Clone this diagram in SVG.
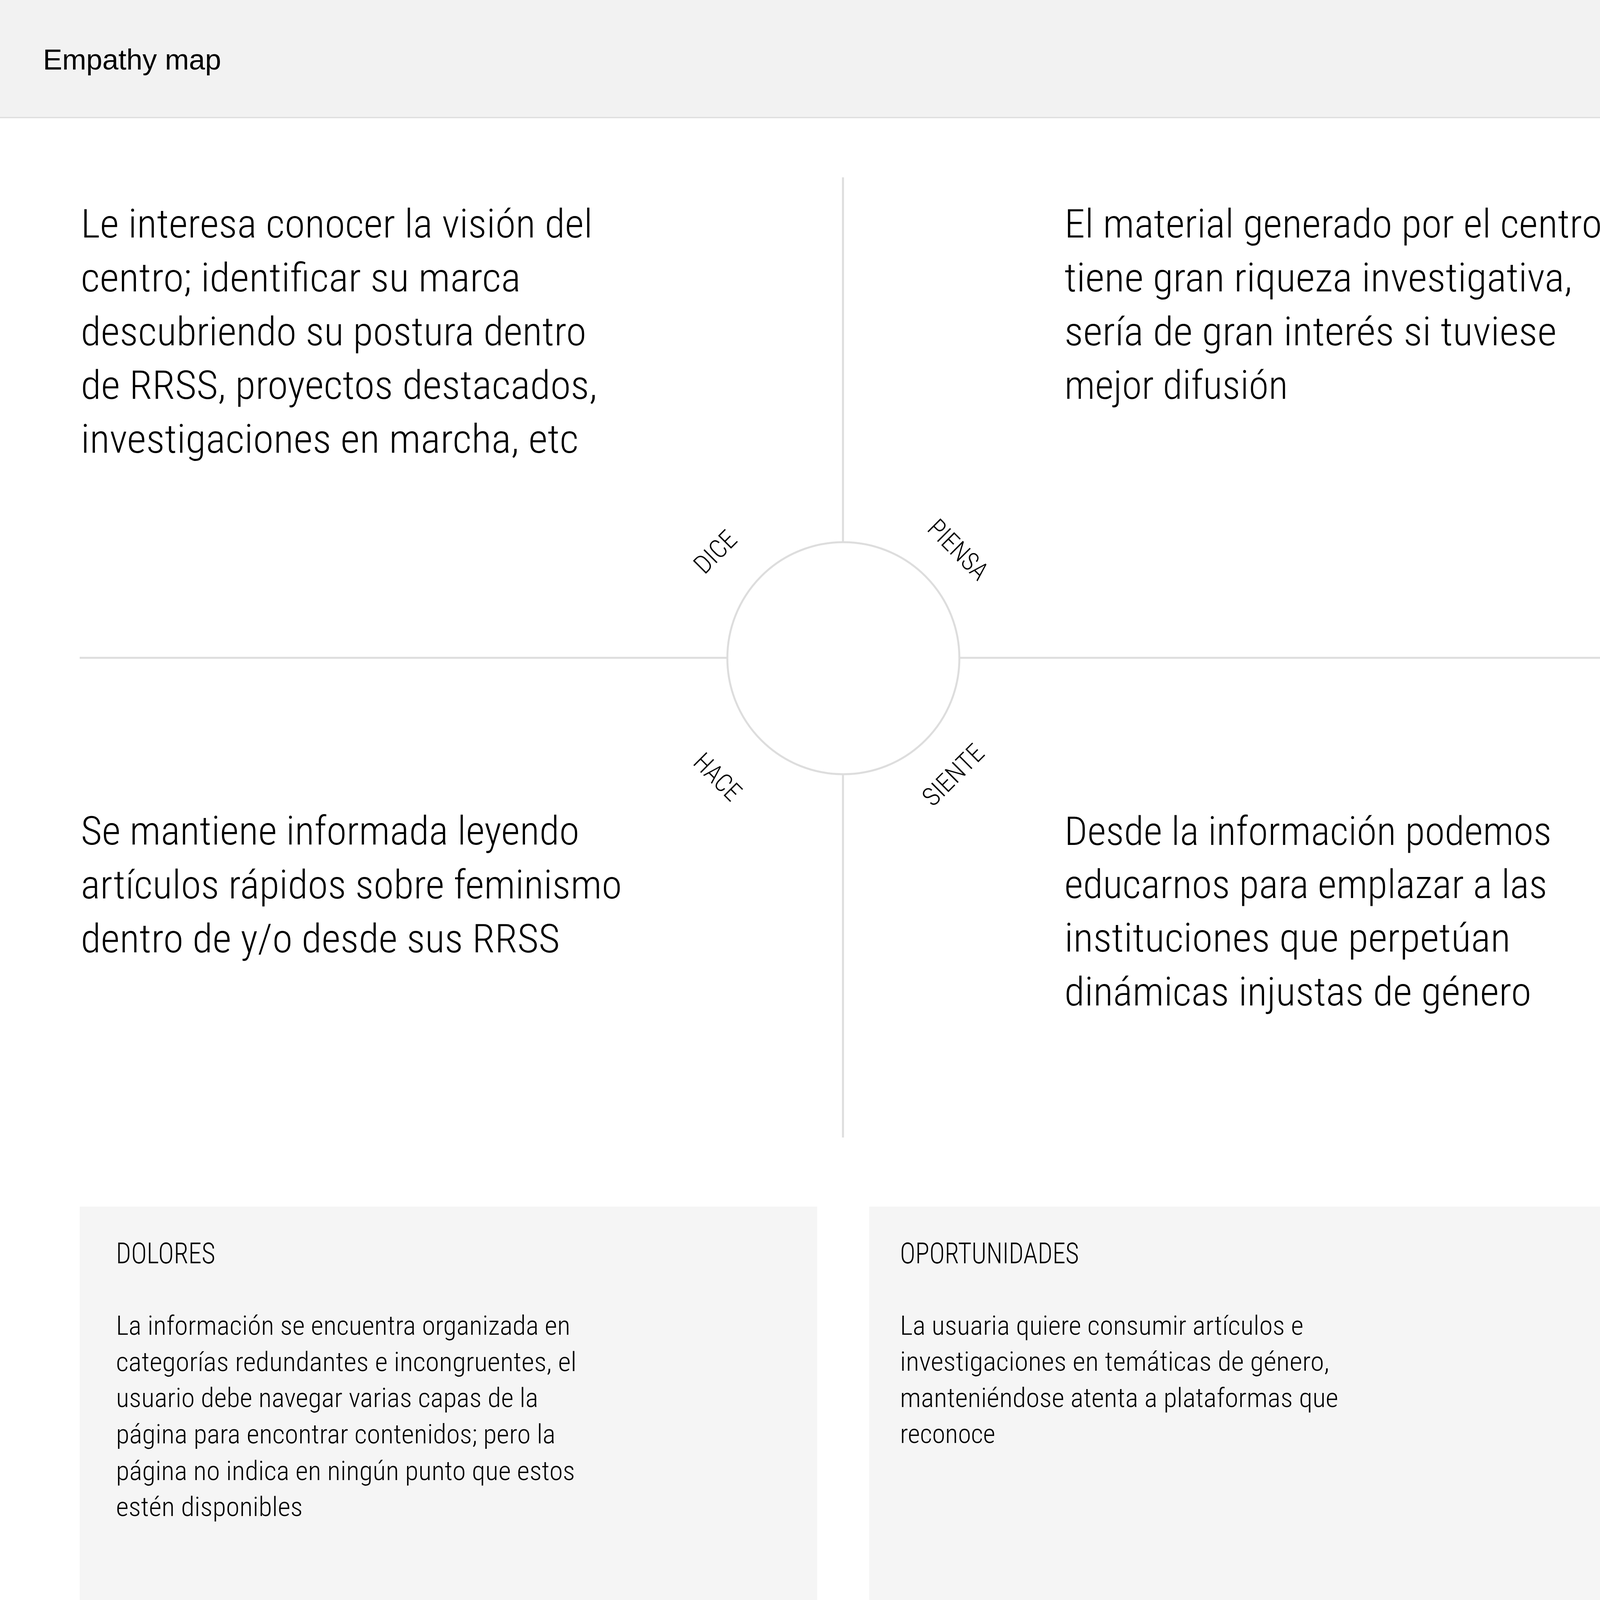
<svg xmlns="http://www.w3.org/2000/svg" width="4320" height="4452" viewBox="0 0 4320 4452">
<style>
.cond{font-family:"Liberation Sans Narrow","Roboto Condensed","DejaVu Sans Condensed","Liberation Sans",sans-serif;font-stretch:condensed;font-weight:300;fill:#000}
.big{font-size:102px}
.small{font-size:69px}
.title{font-size:74px}
.lbl{font-size:66px;text-anchor:middle}
.hdr{font-family:"Liberation Sans","Noto Sans",sans-serif;font-size:74px;fill:#000}
.rule{stroke:#dddddd;stroke-width:5;fill:none}
.box{fill:#f5f5f5}
</style>
<rect x="0" y="0" width="4320" height="4452" fill="#ffffff"/>
<g id="header">
<rect x="0" y="0" width="4320" height="301" fill="#f2f2f2"/>
<line x1="0" y1="301" x2="4320" y2="301" stroke="#dcdcdc" stroke-width="3"/>
<text class="hdr" x="110" y="178" textLength="456" lengthAdjust="spacingAndGlyphs">Empathy map</text>
</g>
<g id="connectors">
<line class="rule" x1="2158" y1="454" x2="2158" y2="2912"/>
<line class="rule" x1="204" y1="1684" x2="4115" y2="1684"/>
</g>
<g id="center">
<circle class="rule" cx="2159" cy="1685" r="297" style="fill:#ffffff"/>
</g>
<g id="labels">
<text class="cond lbl" transform="translate(1830,1412) rotate(-45)" x="0" y="24" textLength="124" lengthAdjust="spacingAndGlyphs">DICE</text>
<text class="cond lbl" transform="translate(2454,1406) rotate(45)" x="0" y="24" textLength="188" lengthAdjust="spacingAndGlyphs">PIENSA</text>
<text class="cond lbl" transform="translate(1838,1988) rotate(45)" x="0" y="24" textLength="141" lengthAdjust="spacingAndGlyphs">HACE</text>
<text class="cond lbl" transform="translate(2439,1983) rotate(-45)" x="0" y="24" textLength="192" lengthAdjust="spacingAndGlyphs">SIENTE</text>
</g>
<g id="dice">
<text class="cond big" x="207" y="608" textLength="1310" lengthAdjust="spacingAndGlyphs">Le interesa conocer la visión del</text>
<text class="cond big" x="207" y="746" textLength="1126" lengthAdjust="spacingAndGlyphs">centro; identificar su marca</text>
<text class="cond big" x="207" y="884" textLength="1294" lengthAdjust="spacingAndGlyphs">descubriendo su postura dentro</text>
<text class="cond big" x="207" y="1021" textLength="1322" lengthAdjust="spacingAndGlyphs">de RRSS, proyectos destacados,</text>
<text class="cond big" x="207" y="1159" textLength="1274" lengthAdjust="spacingAndGlyphs">investigaciones en marcha, etc</text>
</g>
<g id="piensa">
<text class="cond big" x="2725" y="608" textLength="1376" lengthAdjust="spacingAndGlyphs">El material generado por el centro</text>
<text class="cond big" x="2725" y="746" textLength="1300" lengthAdjust="spacingAndGlyphs">tiene gran riqueza investigativa,</text>
<text class="cond big" x="2725" y="884" textLength="1260" lengthAdjust="spacingAndGlyphs">sería de gran interés si tuviese</text>
<text class="cond big" x="2725" y="1021" textLength="572" lengthAdjust="spacingAndGlyphs">mejor difusión</text>
</g>
<g id="hace">
<text class="cond big" x="207" y="2162" textLength="1276" lengthAdjust="spacingAndGlyphs">Se mantiene informada leyendo</text>
<text class="cond big" x="207" y="2300" textLength="1385" lengthAdjust="spacingAndGlyphs">artículos rápidos sobre feminismo</text>
<text class="cond big" x="207" y="2438" textLength="1226" lengthAdjust="spacingAndGlyphs">dentro de y/o desde sus RRSS</text>
</g>
<g id="siente">
<text class="cond big" x="2725" y="2163" textLength="1247" lengthAdjust="spacingAndGlyphs">Desde la información podemos</text>
<text class="cond big" x="2725" y="2299" textLength="1236" lengthAdjust="spacingAndGlyphs">educarnos para emplazar a las</text>
<text class="cond big" x="2725" y="2436" textLength="1142" lengthAdjust="spacingAndGlyphs">instituciones que perpetúan</text>
<text class="cond big" x="2725" y="2574" textLength="1195" lengthAdjust="spacingAndGlyphs">dinámicas injustas de género</text>
</g>
<g id="dolores">
<rect class="box" x="204" y="3089" width="1888" height="1191"/>
<text class="cond title" x="297" y="3234" textLength="254" lengthAdjust="spacingAndGlyphs">DOLORES</text>
<text class="cond small" x="297" y="3417" textLength="1163" lengthAdjust="spacingAndGlyphs">La información se encuentra organizada en</text>
<text class="cond small" x="297" y="3510" textLength="1179" lengthAdjust="spacingAndGlyphs">categorías redundantes e incongruentes, el</text>
<text class="cond small" x="297" y="3602" textLength="1081" lengthAdjust="spacingAndGlyphs">usuario debe navegar varias capas de la</text>
<text class="cond small" x="297" y="3695" textLength="1125" lengthAdjust="spacingAndGlyphs">página para encontrar contenidos; pero la</text>
<text class="cond small" x="297" y="3789" textLength="1175" lengthAdjust="spacingAndGlyphs">página no indica en ningún punto que estos</text>
<text class="cond small" x="297" y="3881" textLength="478" lengthAdjust="spacingAndGlyphs">estén disponibles</text>
</g>
<g id="oportunidades">
<rect class="box" x="2225" y="3089" width="1890" height="1191"/>
<text class="cond title" x="2304" y="3234" textLength="458" lengthAdjust="spacingAndGlyphs">OPORTUNIDADES</text>
<text class="cond small" x="2304" y="3417" textLength="1033" lengthAdjust="spacingAndGlyphs">La usuaria quiere consumir artículos e</text>
<text class="cond small" x="2304" y="3509" textLength="1099" lengthAdjust="spacingAndGlyphs">investigaciones en temáticas de género,</text>
<text class="cond small" x="2304" y="3602" textLength="1122" lengthAdjust="spacingAndGlyphs">manteniéndose atenta a plataformas que</text>
<text class="cond small" x="2304" y="3694" textLength="244" lengthAdjust="spacingAndGlyphs">reconoce</text>
</g>
</svg>
